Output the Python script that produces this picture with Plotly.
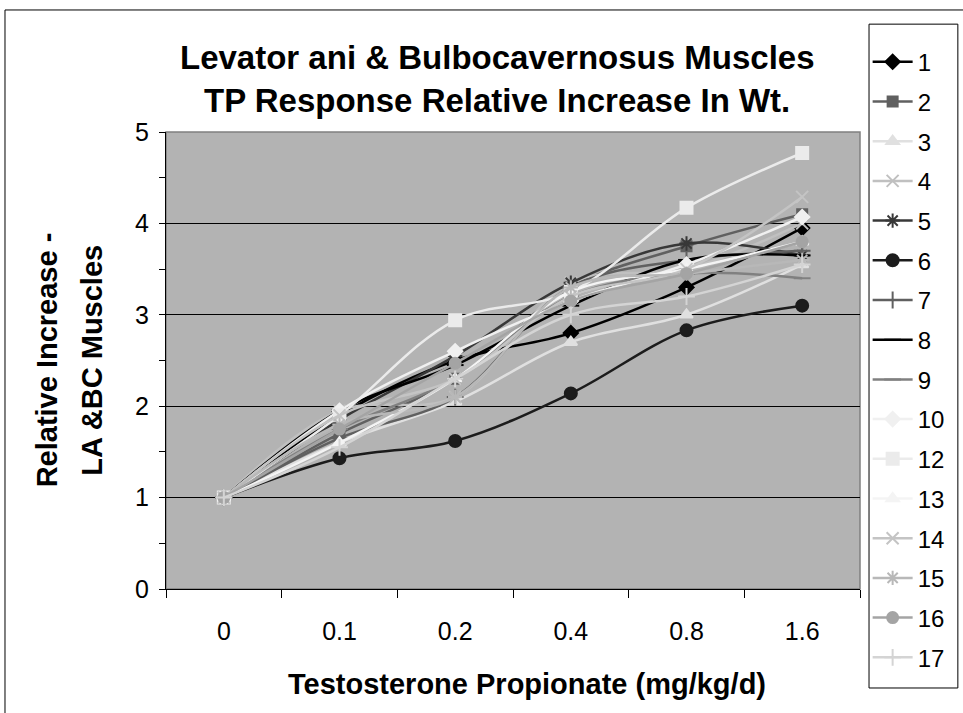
import plotly.graph_objects as go

doses = ["0", "0.1", "0.2", "0.4", "0.8", "1.6"]

s1 = [1, 1.90, 2.50, 2.80, 3.30, 3.95]
s2 = [1, 1.70, 2.30, 3.30, 3.75, 4.10]
s3 = [1, 1.60, 2.05, 2.70, 3.00, 3.55]
s4 = [1, 1.95, 2.10, 3.35, 3.50, 4.00]
s5 = [1, 1.85, 2.55, 3.35, 3.78, 3.65]
s6 = [1, 1.43, 1.62, 2.14, 2.83, 3.10]
s7 = [1, 1.65, 2.10, 3.30, 3.60, 3.70]
s8 = [1, 1.95, 2.45, 3.10, 3.60, 3.65]
s9 = [1, 1.75, 2.30, 3.20, 3.45, 3.40]
s10 = [1, 1.95, 2.60, 3.15, 3.55, 4.07]
s12 = [1, 1.90, 2.94, 3.25, 4.17, 4.77]
s13 = [1, 1.60, 2.30, 3.25, 3.50, 3.80]
s14 = [1, 1.90, 2.30, 3.20, 3.50, 4.29]
s15 = [1, 1.80, 2.10, 3.30, 3.45, 3.60]
s16 = [1, 1.75, 2.47, 3.15, 3.45, 3.80]
s17 = [1, 1.55, 2.30, 3.00, 3.20, 3.55]

series = [
    ("1", s1, "#000000", "diamond", 11),
    ("2", s2, "#606060", "square", 10),
    ("3", s3, "#e0e0e0", "triangle-up", 11),
    ("4", s4, "#c0c0c0", "x-thin-open", 12),
    ("5", s5, "#383838", "asterisk-open", 12),
    ("6", s6, "#1c1c1c", "circle", 12),
    ("7", s7, "#606060", "cross-thin-open", 12),
    ("8", s8, "#000000", "line-ew-open", 12),
    ("9", s9, "#808080", "line-ew-open", 12),
    ("10", s10, "#f0f0f0", "diamond", 11),
    ("12", s12, "#ebebeb", "square", 12),
    ("13", s13, "#f4f4f4", "triangle-up", 11),
    ("14", s14, "#c4c4c4", "x-thin-open", 12),
    ("15", s15, "#b8b8b8", "asterisk-open", 12),
    ("16", s16, "#a4a4a4", "circle", 11),
    ("17", s17, "#d4d4d4", "cross-thin-open", 12),
]

fig = go.Figure()
for name, vals, col, sym, sz in series:
    fig.add_trace(go.Scatter(
        x=doses, y=vals, name=name, legendgroup=name,
        mode="lines+markers",
        line=dict(color=col, width=2.5, shape="spline", smoothing=1),
        marker=dict(symbol=sym, size=sz, color=col,
                    line=dict(color=col, width=2)),
    ))

font = "Liberation Sans, Arial, sans-serif"


def note(text, x, y, size, angle=0):
    return dict(text=text, xref="paper", yref="paper", x=x, y=y,
                xanchor="center", yanchor="middle", showarrow=False,
                textangle=angle, font=dict(size=size))


fig.update_layout(
    width=963, height=713,
    margin=dict(l=166, r=103, t=132, b=124),
    paper_bgcolor="white",
    plot_bgcolor="#b3b3b3",
    font=dict(family=font, color="black", size=20),
    showlegend=True,
    legend=dict(
        x=1.011, y=1.202, xanchor="left", yanchor="top",
        bgcolor="rgba(0,0,0,0)", borderwidth=0,
        font=dict(family=font, size=24, color="black"),
        tracegroupgap=5.5, itemwidth=40, maxheight=700,
    ),
    xaxis=dict(
        type="category", tickson="boundaries", range=[-0.5, 5.5],
        ticks="outside", ticklen=8, tickcolor="black",
        showline=True, linecolor="black", linewidth=1,
        showgrid=False, ticklabelstandoff=20,
        tickfont=dict(size=25),
    ),
    yaxis=dict(
        range=[0, 5], dtick=1, tick0=0,
        ticks="outside", ticklen=6, tickcolor="black",
        showline=True, linecolor="black", linewidth=1,
        showgrid=True, gridcolor="black", gridwidth=1,
        zeroline=False, ticklabelstandoff=5,
        tickfont=dict(size=25),
        minor=dict(dtick=0.5, ticks="outside", ticklen=6, tickcolor="black", showgrid=False),
    ),
    shapes=[
        dict(type="rect", xref="paper", yref="paper", x0=0, x1=1, y0=0, y1=1,
             line=dict(color="#808080", width=1.5), layer="between"),
        dict(type="rect", xref="paper", yref="paper", x0=-0.232, x1=1.2, y0=-0.4, y1=1.267,
             line=dict(color="black", width=1)),
        # legend box
        dict(type="rect", xref="paper", yref="paper", x0=1.013, x1=1.141, y0=-0.2166, y1=1.236,
             line=dict(color="black", width=1), fillcolor="white", layer="below"),
    ],
    annotations=[
        note("<b>Levator ani & Bulbocavernosus Muscles</b>", 0.477, 1.164, 33),
        note("<b>TP Response Relative Increase In Wt.</b>", 0.477, 1.070, 33),
        note("<b>Relative Increase -</b>", -0.171, 0.501, 29, -90),
        note("<b>LA &BC Muscles</b>", -0.107, 0.501, 29, -90),
        note("<b>Testosterone Propionate (mg/kg/d)</b>", 0.520, -0.208, 29),
    ],
)

fig.write_html("out.html", config={"displayModeBar": False},
               post_script="document.body.style.margin='0';")
